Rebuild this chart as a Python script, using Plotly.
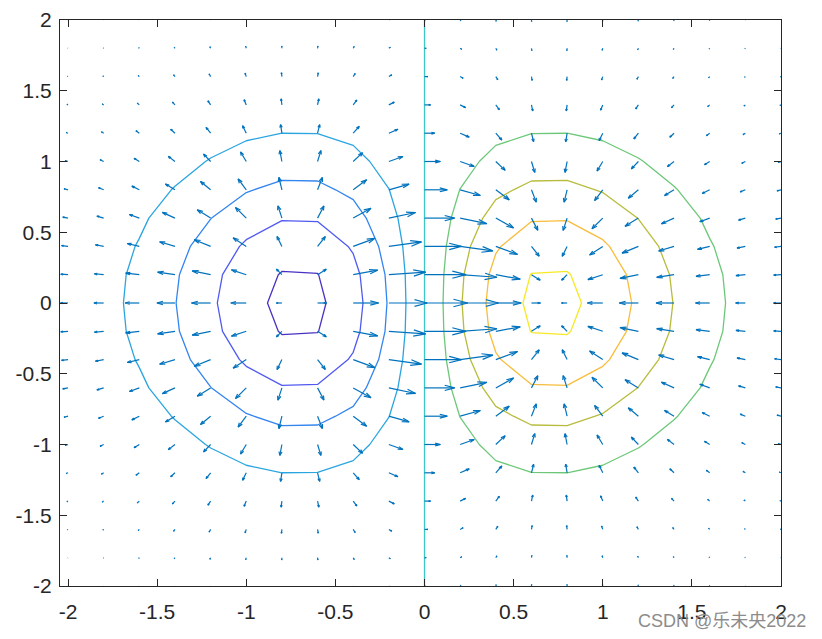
import numpy as np
import plotly.graph_objects as go

# ---- data ----
grid_x = np.linspace(-2, 2, 21)          # meshgrid(-2:.2:2)
grid_y = np.linspace(-2, 2, 21)
grid_step = 0.2
contour_levels = [-0.4, -0.3, -0.2, -0.1, 0.0, 0.1, 0.2, 0.3, 0.4]
level_colors = ["#4832c3", "#505af0", "#3385f0", "#2aa5e0", "#3cc8c4",
                "#6cc878", "#b8bc3c", "#f8bd3c", "#f7e923"]
x_tick_vals = [-2, -1.5, -1, -0.5, 0, 0.5, 1, 1.5, 2]
x_tick_text = ["-2", "-1.5", "-1", "-0.5", "0", "0.5", "1", "1.5", "2"]
y_tick_vals = [-2, -1.5, -1, -0.5, 0, 0.5, 1, 1.5, 2]
y_tick_text = ["-2", "-1.5", "-1", "-0.5", "0", "0.5", "1", "1.5", "2"]
watermark = "CSDN @乐未央2022"

# field z = x*exp(-x^2-y^2) on the grid, and its gradient
X, Y = np.meshgrid(grid_x, grid_y)
Z = X * np.exp(-X**2 - Y**2)
DY, DX = np.gradient(Z, grid_step, grid_step)

# MATLAB-style quiver autoscale
n = len(grid_x)
delx = (grid_x.max() - grid_x.min()) / n
dely = (grid_y.max() - grid_y.min()) / n
dl = delx**2 + dely**2
maxlen = np.max(np.sqrt((DX**2 + DY**2) / dl))
sc = 0.9 / maxlen
U = DX * sc
V = DY * sc

alpha, beta = 0.33, 0.33
xs, ys = [], []
for x0, y0, u, v in zip(X.ravel(), Y.ravel(), U.ravel(), V.ravel()):
    xs += [x0, x0 + u, None]
    ys += [y0, y0 + v, None]
    ep = 1e-12
    hx = [x0 + u - alpha * (u + beta * (v + ep)), x0 + u, x0 + u - alpha * (u - beta * (v + ep))]
    hy = [y0 + v - alpha * (v - beta * (u + ep)), y0 + v, y0 + v - alpha * (v + beta * (u + ep))]
    xs += hx + [None]
    ys += hy + [None]

cs = [[i / (len(level_colors) - 1), c] for i, c in enumerate(level_colors)]

fig = go.Figure()
fig.add_trace(go.Contour(
    x=grid_x, y=grid_y, z=Z,
    zmin=contour_levels[0], zmax=contour_levels[-1],
    autocontour=False,
    contours=dict(start=contour_levels[0], end=contour_levels[-1] + 1e-9,
                  size=0.1, coloring="lines"),
    colorscale=cs, showscale=False, line=dict(width=1.3, smoothing=0),
    hoverinfo="skip",
))
fig.add_trace(go.Scatter(
    x=xs, y=ys, mode="lines",
    line=dict(color="#0072BD", width=1.2),
    hoverinfo="skip", showlegend=False,
))

axis_common = dict(
    showline=True, mirror="ticks", linecolor="#262626", linewidth=1,
    ticks="inside", ticklen=7, tickwidth=1, tickcolor="#262626",
    showgrid=False, zeroline=False, automargin=False,
    ticklabeloverflow="allow",
    tickfont=dict(family="Liberation Sans, Arial", size=21, color="#262626"),
)
fig.update_xaxes(range=[-2.045, 2.0], tickvals=x_tick_vals, ticktext=x_tick_text,
                 ticklabelstandoff=7, **axis_common)
fig.update_yaxes(range=[-2.0, 2.0], tickvals=y_tick_vals, ticktext=y_tick_text,
                 ticklabelstandoff=3, **axis_common)

fig.update_layout(
    width=822, height=639,
    margin=dict(l=52, r=49, t=12, b=61),
    paper_bgcolor="white", plot_bgcolor="white",
    showlegend=False,
    annotations=[dict(
        text=watermark, xref="paper", yref="paper",
        x=(721 - 59) / 721, y=(585 - 620) / 566,
        xanchor="center", yanchor="middle", showarrow=False,
        font=dict(family="Liberation Sans, Noto Sans CJK SC", size=18, color="#8c8c8c"),
    )],
)

fig.write_html("out.html")
